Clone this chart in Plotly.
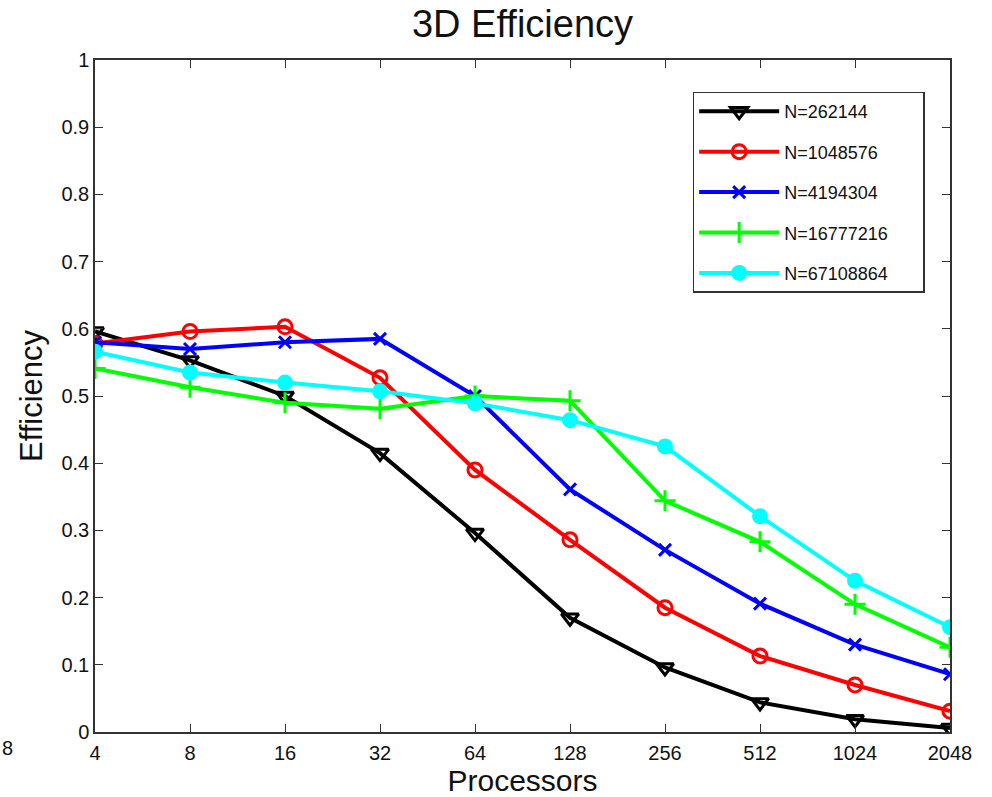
import plotly.graph_objects as go

processors = [4, 8, 16, 32, 64, 128, 256, 512, 1024, 2048]
tick_labels = ["4", "8", "16", "32", "64", "128", "256", "512", "1024", "2048"]

series_names = ["N=262144", "N=1048576", "N=4194304", "N=16777216", "N=67108864"]
eff_262144 = [0.596, 0.553, 0.500, 0.415, 0.296, 0.170, 0.096, 0.044, 0.019, 0.006]
eff_1048576 = [0.578, 0.596, 0.603, 0.527, 0.390, 0.286, 0.185, 0.113, 0.070, 0.031]
eff_4194304 = [0.580, 0.570, 0.580, 0.585, 0.500, 0.361, 0.271, 0.191, 0.130, 0.086]
eff_16777216 = [0.541, 0.513, 0.490, 0.481, 0.500, 0.493, 0.344, 0.283, 0.190, 0.126]
eff_67108864 = [0.566, 0.535, 0.520, 0.507, 0.489, 0.464, 0.425, 0.321, 0.225, 0.156]

all_series = [eff_262144, eff_1048576, eff_4194304, eff_16777216, eff_67108864]
colors = ["#000000", "#ff0000", "#0000ff", "#00ff00", "#00ffff"]
symbols = ["triangle-down-open", "circle-open", "x-thin-open", "cross-thin-open", "circle"]
sizes = [15, 14, 12, 15, 13]

FONT = "Liberation Sans, Arial, sans-serif"
PAD = "\u00a0" * 6

fig = go.Figure()
for name, ys, c, s, sz in zip(series_names, all_series, colors, symbols, sizes):
    fig.add_trace(go.Scatter(
        x=processors, y=ys, name=name + PAD, mode="lines+markers", legendgroup=name,
        line=dict(color=c, width=4),
        marker=dict(symbol=s, size=sz, color=c, line=dict(color=c, width=3)),
    ))

axis_common = dict(
    showline=True, linecolor="#333333", linewidth=1.5, mirror="ticks",
    ticks="inside", ticklen=8, tickcolor="#333333", showgrid=False, zeroline=False,
    tickfont=dict(family=FONT, size=20, color="#111111"),
)

fig.update_layout(
    width=992, height=797,
    paper_bgcolor="white", plot_bgcolor="white",
    margin=dict(l=95, r=42, t=60, b=62),
    title=dict(text="3D Efficiency", x=0.5, xref="paper", xanchor="center", y=0.970, yanchor="middle",
               font=dict(family=FONT, size=38, color="#111111")),
    font=dict(family=FONT, color="#111111"),
    xaxis=dict(type="log", range=[0.60206, 3.31133], tickvals=processors, ticktext=tick_labels,
               ticklabelstandoff=2,
               title=dict(text="Processors", font=dict(size=30), standoff=0), **axis_common),
    yaxis=dict(range=[0, 1], dtick=0.1, tickformat="~g",
               title=dict(text="Efficiency", font=dict(size=31), standoff=10), **axis_common),
    legend=dict(x=0.699, y=0.953, xanchor="left", yanchor="top",
                bordercolor="#333333", borderwidth=1.5, bgcolor="white",
                font=dict(family=FONT, size=18, color="#111111"), tracegroupgap=14,
                itemwidth=80),
    showlegend=True,
)

fig.add_annotation(text="8", xref="paper", yref="paper", x=-0.1105, y=-0.0237,
                   xanchor="left", yanchor="middle", borderpad=0,
                   showarrow=False, font=dict(family=FONT, size=20, color="#111111"))

fig.write_html("out.html")
